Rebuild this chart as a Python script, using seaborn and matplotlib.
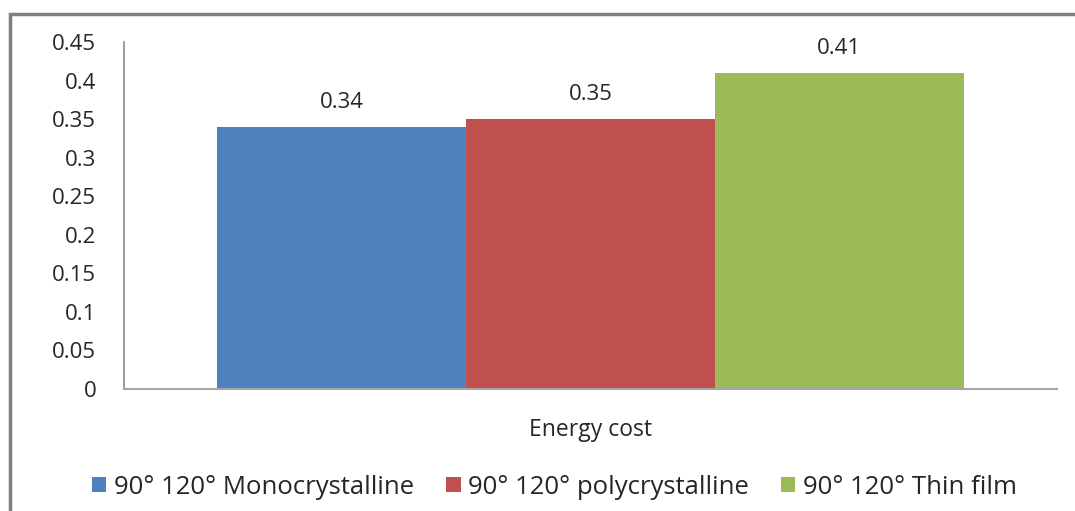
import numpy as np
import pandas as pd
import matplotlib
matplotlib.use("Agg")
import matplotlib.pyplot as plt
from matplotlib.patches import Rectangle
import seaborn as sns

# data
categories = ["Energy cost"]
series = ["90\u00b0 120\u00b0 Monocrystalline", "90\u00b0 120\u00b0 polycrystalline", "90\u00b0 120\u00b0 Thin film"]
values = [0.34, 0.35, 0.41]
colors = ["#4F81BD", "#C0504D", "#9BBB59"]
yticks = [0, 0.05, 0.1, 0.15, 0.2, 0.25, 0.3, 0.35, 0.4, 0.45]
ytick_labels = ["0", "0.05", "0.1", "0.15", "0.2", "0.25", "0.3", "0.35", "0.4", "0.45"]

df = pd.DataFrame({"cat": categories * len(series), "series": series, "value": values})

sns.set_style("white")
plt.rcParams["font.family"] = ["Open Sans", "DejaVu Sans"]

fig = plt.figure(figsize=(10.75, 5.11), dpi=100)
ax = fig.add_axes([124 / 1075, 1 - 389 / 511, (1057 - 124) / 1075, (389 - 42) / 511])

sns.barplot(data=df, x="cat", y="value", hue="series", palette=colors,
            saturation=1, width=0.8, linewidth=0, ax=ax, legend=True)

ax.set_ylim(0, 0.45)
ax.set_yticks(yticks)
ax.set_yticklabels(ytick_labels, fontsize=16, color="#262626")
ax.tick_params(axis="y", length=0, pad=20)
ax.tick_params(axis="x", length=0, pad=21, labelsize=16.5, labelcolor="#262626")
ax.set_xlabel("")
ax.set_ylabel("")
for s in ["top", "right"]:
    ax.spines[s].set_visible(False)
ax.spines["left"].set_color("#8c8c8c")
ax.spines["bottom"].set_color("#a6a6a6")
ax.spines["left"].set_linewidth(1.2)
ax.spines["bottom"].set_linewidth(1.5)

for cont in ax.containers:
    ax.bar_label(cont, fmt="%.2f", padding=10, fontsize=16, color="#262626")

handles, labels = ax.get_legend_handles_labels()
ax.get_legend().remove()
fig.legend(handles, labels, loc="center", bbox_to_anchor=(0.516, 1 - 487 / 511), ncol=3,
           frameon=False, handlelength=0.55, handleheight=0.55, handletextpad=0.3,
           columnspacing=1.25, prop={"family": "Open Sans", "size": 18.5})

# outer chart frame (cropped on right/bottom)
fig.patches.append(Rectangle((10 / 1075, -0.2), 1.2, 1.2 - 14 / 511, fill=False,
                             edgecolor="#7f7f7f", linewidth=2.5, transform=fig.transFigure))

fig.savefig("out.png", dpi=100)
